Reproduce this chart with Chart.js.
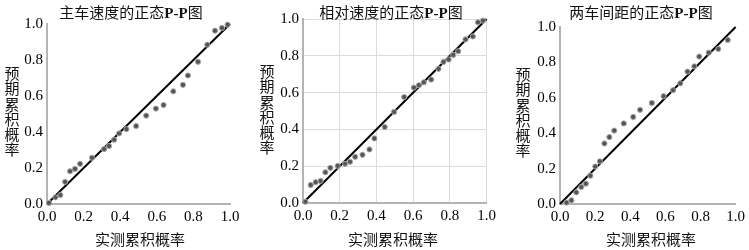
<!DOCTYPE html>
<html lang="zh">
<head>
<meta charset="UTF-8">
<title>正态P-P图</title>
<script src="https://cdn.jsdelivr.net/npm/chart.js"></script>
<style>
  body { margin: 0; background: #fff; width: 749px; height: 250px; overflow: hidden; position: relative;
         font-family: "Liberation Serif", "Noto Sans CJK SC", serif; color: #111; }
  .panel { position: absolute; top: 0; height: 250px; }
  .panel canvas { position: absolute; left: 0; top: 0; }
  .title { position: absolute; top: 1px; font-size: 15px; white-space: nowrap; transform: translateX(-50%); }
  .xlab { position: absolute; top: 228px; font-size: 15px; white-space: nowrap; transform: translateX(-50%); }
  .ylab { position: absolute; font-size: 15px; writing-mode: vertical-rl; text-orientation: upright;
          line-height: 15px; letter-spacing: 0.2px; transform: translateX(-50%); }
</style>
</head>
<body>

<div class="panel" style="left:0;width:250px">
  <canvas id="c1" width="250" height="250"></canvas>
  <div class="title" style="left:131px">主车速度的正态<b>P-P</b>图</div>
  <div class="ylab" style="left:10px;top:66px">预期累积概率</div>
  <div class="xlab" style="left:140px">实测累积概率</div>
</div>
<div class="panel" style="left:250px;width:250px">
  <canvas id="c2" width="250" height="250"></canvas>
  <div class="title" style="left:141px">相对速度的正态<b>P-P</b>图</div>
  <div class="ylab" style="left:15px;top:64px">预期累积概率</div>
  <div class="xlab" style="left:143px">实测累积概率</div>
</div>
<div class="panel" style="left:500px;width:249px">
  <canvas id="c3" width="249" height="250"></canvas>
  <div class="title" style="left:141px">两车间距的正态<b>P-P</b>图</div>
  <div class="ylab" style="left:21px;top:67px">预期累积概率</div>
  <div class="xlab" style="left:151px">实测累积概率</div>
</div>

<script>
// 主车速度
const obs1 = [0.011, 0.046, 0.073, 0.099, 0.126, 0.153, 0.181, 0.246, 0.312, 0.339, 0.367, 0.394, 0.434,
              0.487, 0.542, 0.595, 0.637, 0.690, 0.743, 0.770, 0.825, 0.876, 0.918, 0.956, 0.987];
const exp1 = [0.006, 0.037, 0.050, 0.123, 0.182, 0.195, 0.223, 0.257, 0.305, 0.322, 0.357, 0.392, 0.416,
              0.433, 0.491, 0.530, 0.550, 0.626, 0.662, 0.714, 0.790, 0.885, 0.963, 0.978, 0.996];

// 相对速度
const obs2 = [0.013, 0.042, 0.069, 0.096, 0.122, 0.149, 0.189, 0.229, 0.256, 0.284, 0.324, 0.362, 0.389,
              0.445, 0.496, 0.551, 0.604, 0.631, 0.658, 0.698, 0.738, 0.765, 0.793, 0.818, 0.845, 0.885,
              0.925, 0.953, 0.980];
const exp2 = [0.007, 0.098, 0.113, 0.120, 0.167, 0.191, 0.202, 0.213, 0.224, 0.251, 0.262, 0.291, 0.351,
              0.413, 0.495, 0.576, 0.627, 0.640, 0.656, 0.671, 0.729, 0.767, 0.780, 0.805, 0.825, 0.889,
              0.905, 0.982, 0.991];

// 两车间距
const obs3 = [0.037, 0.065, 0.093, 0.121, 0.147, 0.173, 0.201, 0.227, 0.253, 0.281, 0.309, 0.363, 0.417,
              0.456, 0.523, 0.590, 0.644, 0.685, 0.726, 0.765, 0.793, 0.847, 0.901, 0.955];
const exp3 = [0.008, 0.021, 0.066, 0.096, 0.115, 0.160, 0.212, 0.241, 0.342, 0.378, 0.415, 0.455, 0.492,
              0.532, 0.571, 0.609, 0.643, 0.682, 0.748, 0.778, 0.833, 0.855, 0.876, 0.927];

const refLine = [0, 1];

const tickFont = { family: '"Liberation Serif", serif', size: 15 };

function makeChart(id, obs, exp, box, withGrid) {
    const points = obs.map((v, i) => ({ x: v, y: exp[i] }));
    const diag = refLine.map(v => ({ x: v, y: v }));
    return new Chart(document.getElementById(id), {
        type: 'scatter',
        data: {
            datasets: [
                {
                    data: points,
                    backgroundColor: '#555',
                    borderColor: '#a8a8a8',
                    borderWidth: 1,
                    pointRadius: 2.6,
                    clip: false
                },
                {
                    type: 'line',
                    data: diag,
                    borderColor: '#000',
                    borderWidth: 2,
                    pointRadius: 0,
                    fill: false,
                    clip: false
                }
            ]
        },
        options: {
            responsive: false,
            animation: false,
            layout: { padding: { left: 0, top: box.top, right: box.right, bottom: 0 } },
            plugins: { legend: { display: false }, tooltip: { enabled: false } },
            scales: {
                x: {
                    type: 'linear', min: 0, max: 1,
                    ticks: { stepSize: 0.2, padding: 4, color: '#000', font: tickFont,
                             maxRotation: 0, callback: v => v.toFixed(1) },
                    grid: { display: withGrid, color: '#dcdcdc', drawTicks: false },
                    border: { display: true, color: '#b4b4b4', width: 2 },
                    afterFit: s => { s.height = box.bottom; }
                },
                y: {
                    type: 'linear', min: 0, max: 1,
                    ticks: { stepSize: 0.2, padding: 4, color: '#000', font: tickFont,
                             callback: v => v.toFixed(1) },
                    grid: { display: withGrid, color: '#dcdcdc', drawTicks: false },
                    border: { display: true, color: '#b4b4b4', width: 2 },
                    afterFit: s => { s.width = box.left; }
                }
            }
        }
    });
}

makeChart('c1', obs1, exp1, { left: 47, top: 24, right: 20, bottom: 46 }, false);
makeChart('c2', obs2, exp2, { left: 53, top: 19, right: 13, bottom: 47 }, true);
makeChart('c3', obs3, exp3, { left: 60, top: 27, right: 10, bottom: 46 }, false);
</script>
</body>
</html>
